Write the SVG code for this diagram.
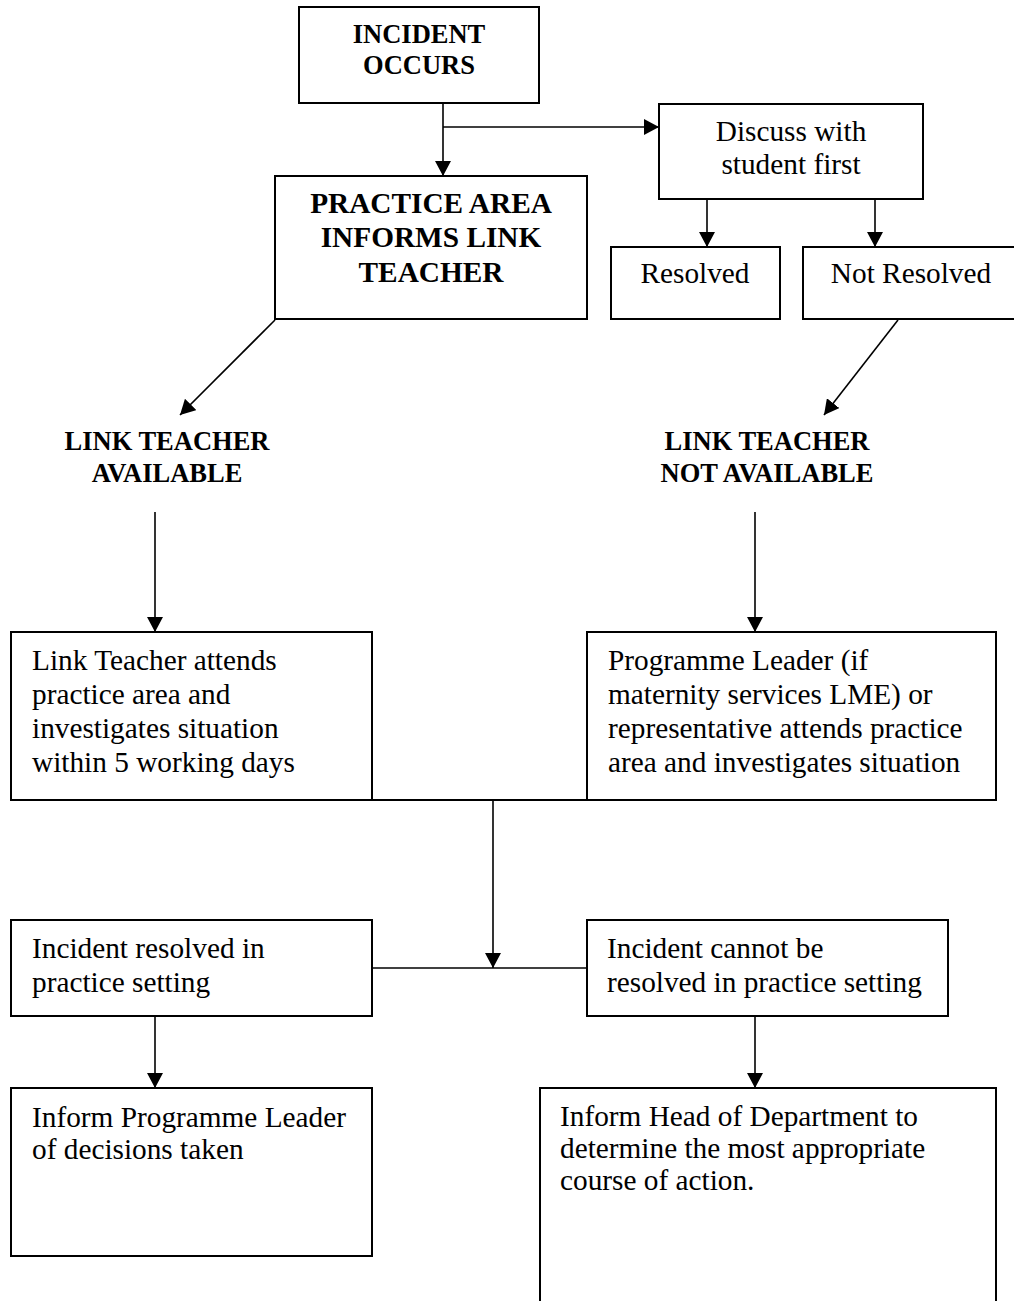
<svg xmlns="http://www.w3.org/2000/svg" width="1014" height="1301" viewBox="0 0 1014 1301">
<style>
.box{fill:#fff;stroke:#000;stroke-width:2}
.t{font-family:"Liberation Serif","Times New Roman",serif;font-size:29.3px;fill:#000}
.b{font-family:"Liberation Serif","Times New Roman",serif;font-weight:bold;font-size:26.5px;fill:#000}
.p{font-size:29.3px}
.c{text-anchor:middle}
.ln{fill:none;stroke:#000;stroke-width:1.6}
.arr{marker-end:url(#ah)}
</style>
<defs>
<marker id="ah" viewBox="0 0 15 16" markerWidth="15" markerHeight="16" refX="15" refY="8" orient="auto" markerUnits="userSpaceOnUse">
<path d="M0,0 L15,8 L0,16 z" fill="#000"/>
</marker>
</defs>
<rect width="1014" height="1301" fill="#fff"/>
<g id="connectors">
<line class="ln arr" x1="443" y1="103" x2="443" y2="176"/>
<line class="ln arr" x1="443" y1="127" x2="659" y2="127"/>
<line class="ln arr" x1="707" y1="199" x2="707" y2="247"/>
<line class="ln arr" x1="875" y1="199" x2="875" y2="247"/>
<line class="ln arr" x1="275" y1="320" x2="180" y2="415"/>
<line class="ln arr" x1="898" y1="320" x2="824" y2="415"/>
<line class="ln arr" x1="155" y1="512" x2="155" y2="632"/>
<line class="ln arr" x1="755" y1="512" x2="755" y2="632"/>
<line class="ln" x1="372" y1="800" x2="587" y2="800" style="stroke-width:2"/>
<line class="ln arr" x1="493" y1="800" x2="493" y2="968"/>
<line class="ln" x1="372" y1="968" x2="587" y2="968"/>
<line class="ln arr" x1="155" y1="1016" x2="155" y2="1088"/>
<line class="ln arr" x1="755" y1="1016" x2="755" y2="1088"/>
</g>
<g id="incident-occurs">
<rect class="box" x="299" y="7" width="240" height="96"/>
<text class="b c" x="419" y="43">INCIDENT</text>
<text class="b c" x="419" y="74">OCCURS</text>
</g>
<g id="practice-area">
<rect class="box" x="275" y="176" width="312" height="143"/>
<text class="b c p" x="431" y="213">PRACTICE AREA</text>
<text class="b c p" x="431" y="247">INFORMS LINK</text>
<text class="b c p" x="431" y="282">TEACHER</text>
</g>
<g id="discuss">
<rect class="box" x="659" y="104" width="264" height="95"/>
<text class="t c" x="791" y="141">Discuss with</text>
<text class="t c" x="791" y="174">student first</text>
</g>
<g id="resolved">
<rect class="box" x="611" y="247" width="169" height="72"/>
<text class="t c" x="695" y="283">Resolved</text>
</g>
<g id="not-resolved">
<rect class="box" x="803" y="247" width="212" height="72"/>
<text class="t c" x="911" y="283">Not Resolved</text>
</g>
<g id="lt-available">
<text class="b c" x="167" y="450">LINK TEACHER</text>
<text class="b c" x="167" y="482">AVAILABLE</text>
</g>
<g id="lt-not-available">
<text class="b c" x="767" y="450">LINK TEACHER</text>
<text class="b c" x="767" y="482">NOT AVAILABLE</text>
</g>
<g id="link-teacher-attends">
<rect class="box" x="11" y="632" width="361" height="168"/>
<text class="t" x="32" y="670">Link Teacher attends</text>
<text class="t" x="32" y="704">practice area and</text>
<text class="t" x="32" y="738">investigates situation</text>
<text class="t" x="32" y="772">within 5 working days</text>
</g>
<g id="programme-leader">
<rect class="box" x="587" y="632" width="409" height="168"/>
<text class="t" x="608" y="670">Programme Leader (if</text>
<text class="t" x="608" y="704">maternity services LME) or</text>
<text class="t" x="608" y="738">representative attends practice</text>
<text class="t" x="608" y="772">area and investigates situation</text>
</g>
<g id="incident-resolved">
<rect class="box" x="11" y="920" width="361" height="96"/>
<text class="t" x="32" y="958">Incident resolved in</text>
<text class="t" x="32" y="992">practice setting</text>
</g>
<g id="incident-not-resolved">
<rect class="box" x="587" y="920" width="361" height="96"/>
<text class="t" x="607" y="958">Incident cannot be</text>
<text class="t" x="607" y="992">resolved in practice setting</text>
</g>
<g id="inform-pl">
<rect class="box" x="11" y="1088" width="361" height="168"/>
<text class="t" x="32" y="1127">Inform Programme Leader</text>
<text class="t" x="32" y="1159">of decisions taken</text>
</g>
<g id="inform-hod">
<rect class="box" x="540" y="1088" width="456" height="230"/>
<text class="t" x="560" y="1126">Inform Head of Department to</text>
<text class="t" x="560" y="1158">determine the most appropriate</text>
<text class="t" x="560" y="1190">course of action.</text>
</g>
</svg>
